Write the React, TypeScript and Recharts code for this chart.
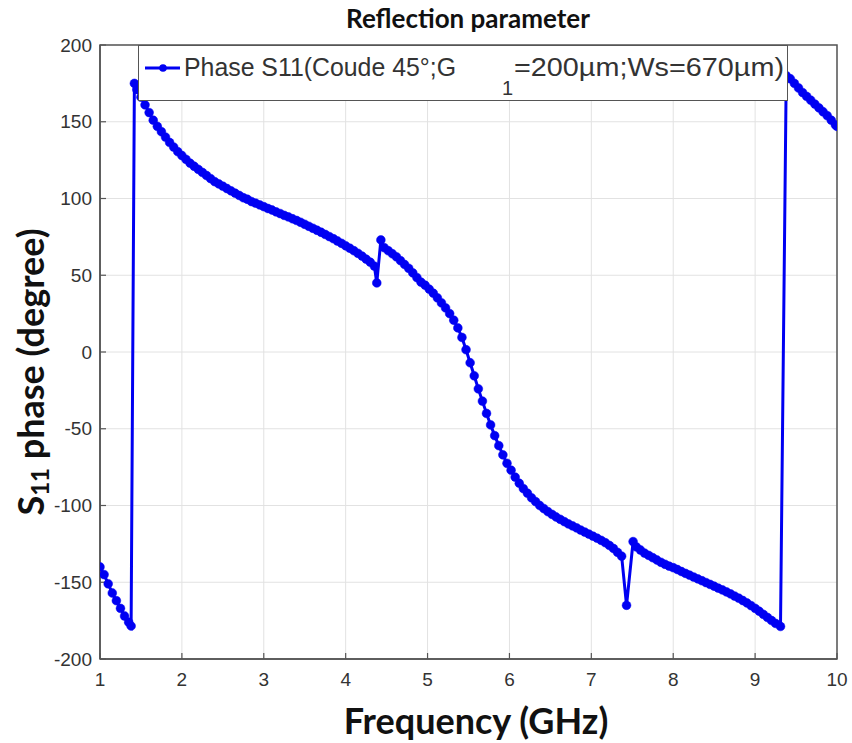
import React from "react";
import { LineChart, Line, XAxis, YAxis, CartesianGrid, ReferenceArea, Legend } from "recharts";

const freq = [
  1.0, 1.05, 1.1, 1.15, 1.2, 1.25, 1.3, 1.35, 1.38,
  1.42, 1.45, 1.5, 1.55, 1.6, 1.65, 1.7, 1.75, 1.8, 1.85, 1.9, 1.95,
  2.0, 2.05, 2.1, 2.15, 2.2, 2.25, 2.3, 2.35, 2.4, 2.45, 2.5, 2.55, 2.6, 2.65, 2.7, 2.75, 2.8, 2.85, 2.9, 2.95,
  3.0, 3.05, 3.1, 3.15, 3.2, 3.25, 3.3, 3.35, 3.4, 3.45, 3.5, 3.55, 3.6, 3.65, 3.7, 3.75, 3.8, 3.85, 3.9, 3.95,
  4.0, 4.05, 4.1, 4.15, 4.2, 4.25, 4.3, 4.35, 4.38, 4.43, 4.47,
  4.52, 4.57, 4.62, 4.67, 4.72, 4.77, 4.82, 4.87, 4.92, 4.97,
  5.02, 5.07, 5.12, 5.17, 5.22, 5.27, 5.32, 5.37, 5.42, 5.47, 5.52, 5.57, 5.62, 5.67, 5.72, 5.77, 5.82, 5.87, 5.92, 5.97,
  6.02, 6.07, 6.12, 6.17, 6.22, 6.27, 6.32, 6.37, 6.42, 6.47, 6.52, 6.57, 6.62, 6.67, 6.72, 6.77, 6.82, 6.87, 6.92, 6.97,
  7.02, 7.07, 7.12, 7.17, 7.22, 7.27, 7.32, 7.37, 7.43, 7.51, 7.55,
  7.6, 7.65, 7.7, 7.75, 7.8, 7.85, 7.9, 7.95,
  8.0, 8.05, 8.1, 8.15, 8.2, 8.25, 8.3, 8.35, 8.4, 8.45, 8.5, 8.55, 8.6, 8.65, 8.7, 8.75, 8.8, 8.85, 8.9, 8.95,
  9.0, 9.05, 9.1, 9.15, 9.2, 9.25, 9.31,
  9.38, 9.43, 9.48, 9.53, 9.58, 9.63, 9.68, 9.73, 9.78, 9.83, 9.88, 9.93, 9.98, 10.0,
];

const phase = [
  -140, -145, -151, -157, -162, -167, -172, -176, -178.5,
  175, 171, 166, 161, 156, 151, 147, 143.5, 140, 136.5, 133.5, 130.5,
  128, 125.5, 123, 121, 119, 117, 115, 113, 111, 109.5, 108, 106.5, 105, 103.5, 102, 100.5, 99.5, 98, 97, 95.8,
  94.7, 93.5, 92.5, 91.3, 90.2, 89, 88, 86.8, 85.7, 84.5, 83.2, 81.9, 80.6, 79.3, 78, 76.6, 75.2, 73.8, 72.3, 70.8,
  69.2, 67.6, 66, 64.3, 62.5, 60.5, 58.5, 56, 45, 73, 68,
  66, 64, 62, 59.5, 57, 54.5, 51.5, 48.5, 45.5, 43.5,
  41, 38.3, 35.3, 32, 28.7, 25, 20.7, 15.7, 9.5, 1.5, -7, -15.5, -24, -32, -40, -47.5, -54.5, -61, -67, -72.5,
  -77, -81.5, -85.5, -89, -92, -95, -97.5, -100, -102, -104, -105.8, -107.5, -109, -110.5, -112, -113.3, -114.6, -116, -117.3, -118.6,
  -120, -121.3, -122.7, -124.2, -126, -128, -130.5, -133, -165, -123.5, -127,
  -129, -131, -132.5, -134, -135.5, -137, -138.3, -139.5,
  -140.5, -141.7, -143, -144.2, -145.4, -146.6, -147.8, -149, -150.2, -151.4, -152.6, -153.8, -155, -156.3, -157.6, -159, -160.4, -161.9, -163.5, -165.2,
  -167, -168.9, -170.9, -172.9, -174.9, -176.8, -178.8,
  180, 178, 175, 172, 169, 166.5, 164, 161.5, 159, 156.5, 154, 151, 148, 147,
];

const xTicks = [1, 2, 3, 4, 5, 6, 7, 8, 9, 10];
const yTicks = [-200, -150, -100, -50, 0, 50, 100, 150, 200];

const titleText = "Reflection parameter";
const xLabelText = "Frequency (GHz)";
const legendMain = "Phase S11(Coude 45°;G";
const legendSub = "1";
const legendRest = "=200µm;Ws=670µm)";

const data = freq.map((f, i) => ({ f, phase: phase[i] }));

const BLUE = "#0000f2";
const AXIS = "#555";
const TICK_FONT = { fontFamily: "Liberation Sans, Arial, sans-serif", fontSize: 19, fill: "#333" };

const LegendBox = () => (
  <div style={{ width: 650, height: 56, background: "#fff", border: "1.5px solid #555", boxSizing: "border-box" }}>
    <svg width={647} height={53} style={{ display: "block" }}>
      <line x1={6} y1={22} x2={41} y2={22} stroke={BLUE} strokeWidth={3} />
      <circle cx={24} cy={22} r={3.8} fill={BLUE} />
      <text x={45} y={30} fontFamily="Liberation Sans, Arial, sans-serif" fontSize={25} fill="#333"
        textLength={272} lengthAdjust="spacingAndGlyphs">{legendMain}</text>
      <text x={363} y={49} fontFamily="Liberation Sans, Arial, sans-serif" fontSize={20} fill="#333">{legendSub}</text>
      <text x={375} y={30} fontFamily="Liberation Sans, Arial, sans-serif" fontSize={25} fill="#333"
        textLength={270} lengthAdjust="spacingAndGlyphs">{legendRest}</text>
    </svg>
  </div>
);

export default function App() {
  return (
    <div style={{ width: 852, height: 743, position: "relative", background: "#fff" }}>
      <style>{"html,body{margin:0;padding:0;background:#fff;}"}</style>
      <LineChart width={852} height={743} data={data} margin={{ top: 45, right: 15, bottom: 0, left: 0 }}>
        <CartesianGrid stroke="#e2e2e2" strokeWidth={1} />
        <XAxis
          type="number"
          dataKey="f"
          domain={[1, 10]}
          ticks={xTicks}
          height={84}
          tickSize={-6}
          tickLine={{ stroke: AXIS, strokeWidth: 1.2 }}
          tickMargin={20}
          axisLine={{ stroke: AXIS, strokeWidth: 1.5 }}
          tick={TICK_FONT}
          allowDataOverflow
        />
        <XAxis
          xAxisId="top"
          orientation="top"
          type="number"
          dataKey="f"
          domain={[1, 10]}
          ticks={xTicks}
          height={0}
          tickSize={-6}
          tick={false}
          tickLine={{ stroke: AXIS, strokeWidth: 1.2 }}
          axisLine={false}
          allowDataOverflow
        />
        <YAxis
          type="number"
          domain={[-200, 200]}
          ticks={yTicks}
          width={100}
          tickSize={-6}
          tickLine={{ stroke: AXIS, strokeWidth: 1.2 }}
          tickMargin={14}
          axisLine={{ stroke: AXIS, strokeWidth: 1.5 }}
          tick={TICK_FONT}
          allowDataOverflow
        />
        <YAxis
          yAxisId="right"
          orientation="right"
          type="number"
          domain={[-200, 200]}
          ticks={yTicks}
          width={0}
          tickSize={-6}
          tick={false}
          tickLine={{ stroke: AXIS, strokeWidth: 1.2 }}
          axisLine={false}
          allowDataOverflow
        />
        <ReferenceArea x1={1} x2={10} y1={-200} y2={200} fill="none" stroke={AXIS} strokeWidth={1.5} ifOverflow="visible" />
        <Line
          type="linear"
          dataKey="phase"
          stroke={BLUE}
          strokeWidth={3}
          dot={{ r: 4.4, fill: BLUE, stroke: BLUE, strokeWidth: 0.5 }}
          isAnimationActive={false}
        />
        <Legend
          layout="vertical"
          align="center"
          verticalAlign="middle"
          wrapperStyle={{ position: "absolute", left: 138, top: 45, width: 650, height: 56, margin: 0 }}
          content={() => <LegendBox />}
        />
        <text x={468} y={28} textAnchor="middle" fontFamily="Lato, sans-serif" fontWeight="bold" fontSize={26} fill="#111">
          {titleText}
        </text>
        <text x={476} y={734} textAnchor="middle" fontFamily="Lato, sans-serif" fontWeight="bold" fontSize={36} fill="#111">
          {xLabelText}
        </text>
        <text
          x={0}
          y={0}
          transform="translate(44,372) rotate(-90)"
          textAnchor="middle"
          fontFamily="Lato, sans-serif"
          fontWeight="bold"
          fontSize={36}
          fill="#111"
        >
          <tspan>S</tspan>
          <tspan fontSize={24} dy={5}>11</tspan>
          <tspan dy={-5}> phase (degree)</tspan>
        </text>
      </LineChart>
    </div>
  );
}
